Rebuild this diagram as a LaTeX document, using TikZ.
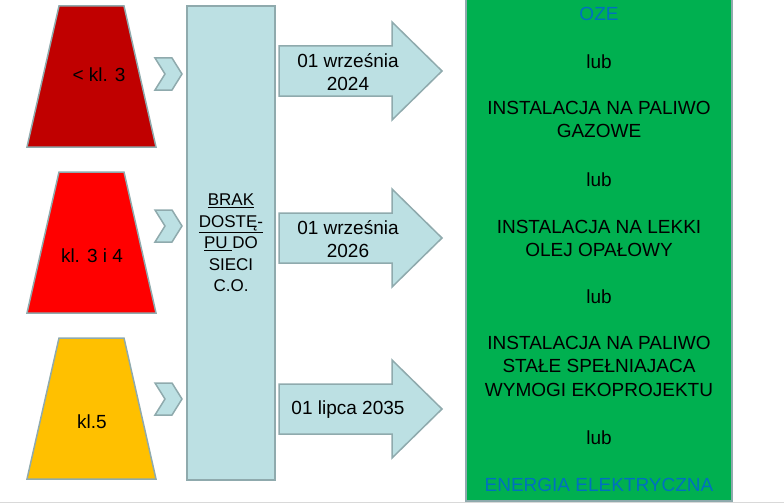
\documentclass[tikz,border=0pt]{standalone}
\usepackage{fontspec}
\setmainfont{Liberation Sans}
\usepackage{tikz}
\usetikzlibrary{%
  calc,
  positioning,
}
\definecolor{klA}{HTML}{C00000}
\definecolor{klB}{HTML}{FF0000}
\definecolor{klC}{HTML}{FFC000}
\definecolor{jasny}{HTML}{BCE0E3}
\definecolor{ramka}{HTML}{8FAAAD}
\definecolor{zielony}{HTML}{00B050}
\definecolor{niebieski}{HTML}{0070C0}
\tikzset{
  ksztalt/.style = {draw = ramka, line width = 1.5pt, line join = miter},
  duzy/.style = {font = \fontsize{19}{23.5}\selectfont, align = center},
  maly/.style = {font = \fontsize{17}{21.5}\selectfont, align = center},
}

\begin{document}
\begin{tikzpicture}[x = 1pt, y = -1pt]
        \useasboundingbox (0,0) rectangle (784,503);
        \draw[gray!30, line width = 1pt] (0,502) -- (784,502);

        % klasy
        \foreach \y/\col in {6/klA, 172/klB, 338/klC} {
          \draw[ksztalt, fill = \col]
            (59,\y) -- (124,\y) -- (156,\y+141) -- (27,\y+141) -- cycle;
        }
        \node[duzy] (kl3) at (99,75) {< kl. 3};
        \node[duzy] (kl34) at (92,256) {kl. 3 i 4};
        \node[duzy] (kl5) at (92,422) {kl.5};

        % strzalki male
        \foreach \y in {58, 210, 383} {
          \draw[ksztalt, fill = jasny]
            (155,\y) -- (172,\y) -- (182,\y+16) -- (172,\y+32)
            -- (155,\y+32) -- (165,\y+16) -- cycle;
        }

        \node[
          ksztalt, fill = jasny, maly,
          minimum width = 88pt, minimum height = 474pt,
          inner sep = 0pt,
        ] (brak) at (231,243)
          {\underline{BRAK}\\\underline{DOSTĘ-}\\\underline{PU }DO\\SIECI\\C.O.};

        % strzalki duze
        \foreach \y in {71, 238, 409} {
          \draw[ksztalt, fill = jasny]
            (279,\y-25) -- (392,\y-25) -- (392,\y-49) -- (442,\y)
            -- (392,\y+49) -- (392,\y+25) -- (279,\y+25) -- cycle;
        }
        \node[duzy] (d2024) at (348,72) {01 września\\2024};
        \node[duzy] (d2026) at (348,239) {01 września\\2026};
        \node[duzy] (d2035) at (348,410) {01 lipca 2035};

        % mozliwosci
        \node[
          ksztalt, fill = zielony,
          minimum width = 266pt, minimum height = 502pt,
          inner sep = 0pt,
        ] (zrodla) at (599,250) {};
        \node[duzy, text = niebieski] (oze) at (599,14) {OZE};
        \node[duzy] (lub1) at (599,62) {lub};
        \node[duzy] (gaz) at (599,119.5) {INSTALACJA NA PALIWO\\GAZOWE};
        \node[duzy] (lub2) at (599,180) {lub};
        \node[duzy] (olej) at (599,238.5) {INSTALACJA NA LEKKI\\OLEJ OPAŁOWY};
        \node[duzy] (lub3) at (599,297) {lub};
        \node[duzy] (stale) at (599,366)
          {INSTALACJA NA PALIWO\\STAŁE SPEŁNIAJACA\\WYMOGI EKOPROJEKTU};
        \node[duzy] (lub4) at (599,438) {lub};
        \node[duzy, text = niebieski] (prad) at (599,485) {ENERGIA ELEKTRYCZNA};
      \end{tikzpicture}
\end{document}
